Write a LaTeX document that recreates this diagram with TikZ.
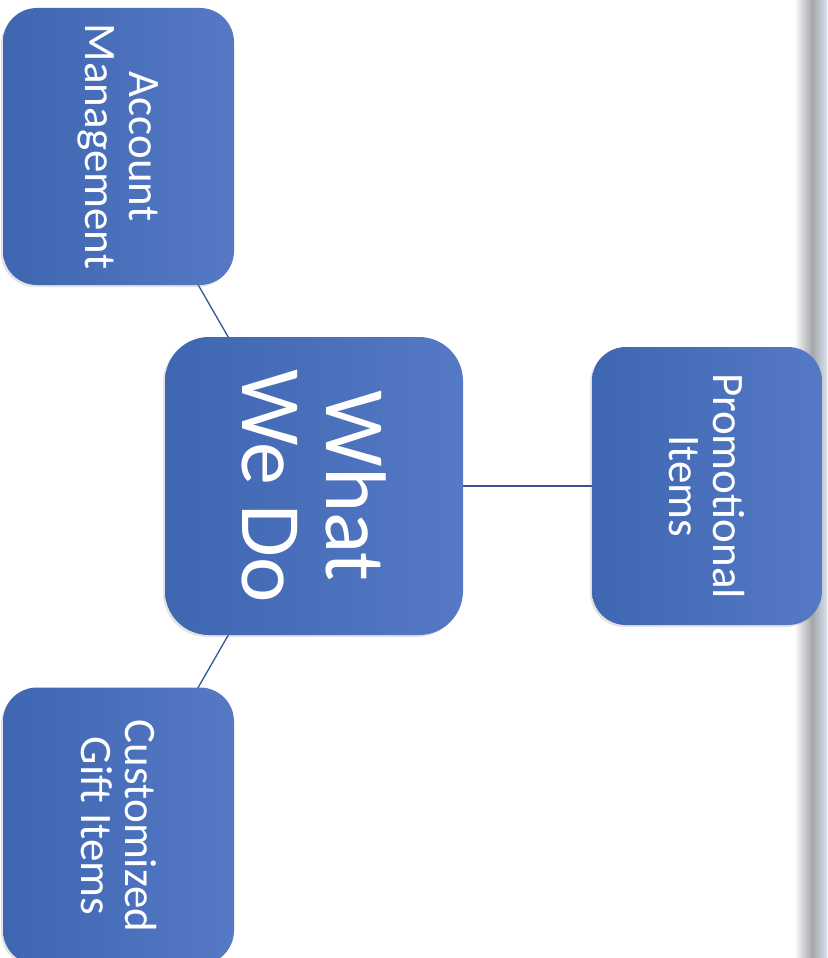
\documentclass[tikz,border=0pt]{standalone}
\usepackage{fontspec}
\setmainfont{Carlito}
\usetikzlibrary{shadows}
\definecolor{bxdark}{HTML}{3E66B1}
\definecolor{bxlight}{HTML}{5679C5}
\definecolor{lnblue}{HTML}{2F5597}
\definecolor{barg}{HTML}{A4A6A9}
\definecolor{barl}{HTML}{D6E0EA}
\tikzset{
  box/.style={draw=none, rounded corners=34pt, left color=bxdark, right color=bxlight,
    minimum width=231pt, minimum height=277pt, inner sep=0pt,
    drop shadow={opacity=0.22, shadow xshift=-2pt, shadow yshift=-2pt}},
  bigbox/.style={box, rounded corners=44pt, minimum width=298pt, minimum height=298pt},
  lbl/.style={rotate=-90, text=white, align=center, font=\fontsize{45}{44}\selectfont, inner sep=0pt},
  biglbl/.style={lbl, font=\fontsize{86}{84}\selectfont},
  conn/.style={draw=lnblue, line width=1.3pt}
}
\begin{document}
\begin{tikzpicture}[x=1pt,y=-1pt]
\useasboundingbox (0,0) rectangle (827,958);
\clip (0,0) rectangle (827,958);
% right edge bar
\shade[left color=white, right color=barg] (794,0) rectangle (812,958);
\shade[left color=barg, right color=barl] (812,0) rectangle (827,958);
% coordinates of box centres
\coordinate (amc) at (118.5,146.5);
\coordinate (wdc) at (314,486);
\coordinate (pic) at (707,486);
\coordinate (cgc) at (118.5,826);
% connectors
\draw[conn] (wdc) -- (amc);
\draw[conn] (wdc) -- (pic);
\draw[conn] (wdc) -- (cgc);
% boxes
\node[box] (am) at (amc) {};
\node[bigbox] (wd) at (wdc) {};
\node[box, minimum width=230pt, minimum height=278pt] (pi) at (pic) {};
\node[box] (cg) at (cgc) {};
% labels
\node[lbl] (amt) at (am) {Account\\Management};
\node[biglbl] (wdt) at (wd) {What\\We Do};
\node[lbl] (pit) at (pi) {Promotional\\Items};
\node[lbl] (cgt) at (cg) {Customized\\Gift Items};
\end{tikzpicture}
\end{document}
